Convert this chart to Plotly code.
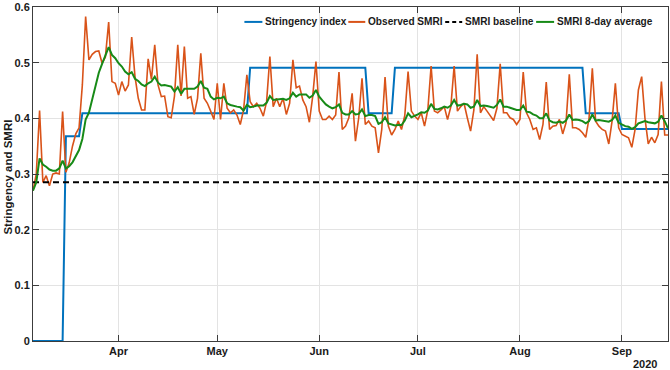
import pandas as pd
import plotly.graph_objects as go

start_date = "2020-03-06"

observed_smri = [
    0.270, 0.300, 0.414, 0.285, 0.297, 0.279, 0.300, 0.302, 0.300, 0.412,
    0.303, 0.320, 0.350, 0.372, 0.383, 0.460, 0.583, 0.505, 0.515, 0.520,
    0.521, 0.499, 0.510, 0.573, 0.466, 0.463, 0.442, 0.466, 0.449, 0.460,
    0.546, 0.475, 0.436, 0.415, 0.415, 0.507, 0.470, 0.532, 0.460, 0.439,
    0.440, 0.403, 0.401, 0.440, 0.532, 0.440, 0.529, 0.436, 0.439, 0.407,
    0.436, 0.517, 0.436, 0.427, 0.413, 0.398, 0.463, 0.398, 0.463, 0.418,
    0.410, 0.415, 0.406, 0.389, 0.415, 0.478, 0.430, 0.421, 0.427, 0.418,
    0.404, 0.430, 0.511, 0.421, 0.436, 0.421, 0.436, 0.407, 0.427, 0.505,
    0.455, 0.458, 0.433, 0.421, 0.393, 0.439, 0.502, 0.413, 0.398, 0.398,
    0.404, 0.398, 0.406, 0.483, 0.380, 0.386, 0.401, 0.445, 0.359, 0.401,
    0.472, 0.389, 0.395, 0.386, 0.383, 0.338, 0.380, 0.474, 0.386, 0.370,
    0.380, 0.395, 0.380, 0.405, 0.484, 0.413, 0.404, 0.398, 0.410, 0.386,
    0.415, 0.494, 0.413, 0.410, 0.415, 0.421, 0.398, 0.421, 0.494, 0.413,
    0.421, 0.427, 0.401, 0.377, 0.415, 0.515, 0.410, 0.421, 0.413, 0.404,
    0.396, 0.418, 0.498, 0.410, 0.410, 0.401, 0.398, 0.389, 0.398, 0.483,
    0.410, 0.398, 0.380, 0.383, 0.362, 0.389, 0.465, 0.380, 0.386, 0.387,
    0.398, 0.372, 0.392, 0.479, 0.383, 0.383, 0.380, 0.374, 0.366, 0.400,
    0.490, 0.395, 0.386, 0.380, 0.377, 0.354, 0.395, 0.463, 0.383, 0.371,
    0.368, 0.365, 0.348, 0.380, 0.451, 0.475, 0.400, 0.354, 0.366, 0.356,
    0.371, 0.466, 0.370, 0.370,
]

smri_8day_avg = [
    0.270, 0.285, 0.328, 0.317, 0.313, 0.308, 0.306, 0.306, 0.310, 0.324,
    0.310, 0.314, 0.321, 0.332, 0.343, 0.363, 0.398, 0.410, 0.436, 0.461,
    0.482, 0.498, 0.514, 0.528, 0.514, 0.508, 0.499, 0.493, 0.484, 0.479,
    0.483, 0.471, 0.467, 0.461, 0.458, 0.463, 0.466, 0.475, 0.464, 0.459,
    0.460, 0.458, 0.457, 0.448, 0.456, 0.444, 0.453, 0.453, 0.453, 0.453,
    0.457, 0.467, 0.455, 0.453, 0.439, 0.434, 0.437, 0.436, 0.439, 0.427,
    0.424, 0.422, 0.421, 0.420, 0.414, 0.424, 0.420, 0.421, 0.423, 0.423,
    0.423, 0.428, 0.440, 0.433, 0.434, 0.434, 0.435, 0.433, 0.436, 0.446,
    0.439, 0.443, 0.443, 0.443, 0.437, 0.441, 0.451, 0.439, 0.432, 0.425,
    0.421, 0.418, 0.420, 0.425, 0.410, 0.407, 0.407, 0.413, 0.407, 0.408,
    0.416, 0.404, 0.406, 0.406, 0.404, 0.390, 0.393, 0.402, 0.391, 0.389,
    0.387, 0.388, 0.388, 0.396, 0.409, 0.402, 0.404, 0.407, 0.411, 0.410,
    0.414, 0.426, 0.417, 0.416, 0.418, 0.421, 0.419, 0.423, 0.433, 0.423,
    0.424, 0.426, 0.425, 0.419, 0.421, 0.433, 0.422, 0.423, 0.422, 0.420,
    0.419, 0.424, 0.434, 0.421, 0.421, 0.419, 0.417, 0.415, 0.415, 0.423,
    0.412, 0.411, 0.407, 0.405, 0.400, 0.400, 0.409, 0.396, 0.393, 0.392,
    0.394, 0.392, 0.396, 0.407, 0.397, 0.398, 0.397, 0.395, 0.391, 0.395,
    0.407, 0.396, 0.397, 0.396, 0.396, 0.394, 0.397, 0.405, 0.392, 0.389,
    0.386, 0.385, 0.381, 0.384, 0.391, 0.393, 0.395, 0.393, 0.392, 0.391,
    0.394, 0.405, 0.395, 0.382,
]

# Stringency index: (number of days, level) segments
stringency_segments = [
    (10, 0.0),
    (5, 0.368),
    (51, 0.409),
    (36, 0.491),
    (8, 0.409),
    (58, 0.491),
    (11, 0.409),
    (15, 0.381),
]
smri_baseline = 0.285

series_names = ["Stringency index", "Observed SMRI", "SMRI baseline", "SMRI 8-day average"]
tick_dates = ["2020-04-01", "2020-05-01", "2020-06-01", "2020-07-01", "2020-08-01", "2020-09-01"]
tick_labels = ["Apr", "May", "Jun", "Jul", "Aug", "Sep"]
y_ticks = [0, 0.1, 0.2, 0.3, 0.4, 0.5, 0.6]
y_tick_labels = ["0", "0.1", "0.2", "0.3", "0.4", "0.5", "0.6"]
year_label = "2020"
y_title = "Stringency and SMRI"

dates = pd.date_range(start_date, periods=len(observed_smri), freq="D")
stringency = []
for n, level in stringency_segments:
    stringency += [level] * n

FONT = "Liberation Sans, Arial, Helvetica, sans-serif"
AX = "#3c3c3c"
COLORS = ["#0072BD", "#D95319", "black", "#178A17"]
WIDTHS = [2, 1.6, 2, 2]
DASHES = ["solid", "solid", "6px,4px", "solid"]

fig = go.Figure()
fig.add_trace(go.Scatter(x=dates, y=stringency, mode="lines", name=series_names[0],
                         line=dict(color=COLORS[0], width=WIDTHS[0])))
fig.add_trace(go.Scatter(x=dates, y=observed_smri, mode="lines", name=series_names[1],
                         line=dict(color=COLORS[1], width=WIDTHS[1])))
fig.add_trace(go.Scatter(x=[dates[0], dates[-1]], y=[smri_baseline, smri_baseline], mode="lines",
                         name=series_names[2],
                         line=dict(color=COLORS[2], width=WIDTHS[2], dash=DASHES[2])))
fig.add_trace(go.Scatter(x=dates, y=smri_8day_avg, mode="lines", name=series_names[3],
                         line=dict(color=COLORS[3], width=WIDTHS[3])))

# plot-area geometry in pixels (for a hand-built, MATLAB-like legend)
L, R, T, B = 33.4, 669.0, 5.0, 341.0
def px_x(p):
    return (p - L) / (R - L)
def px_y(p):
    return (B - p) / (B - T)

legend_samples = [(245, 263), (349, 366), (446, 463), (537, 555)]
legend_y = 20
shapes = []
annotations = []
for (x0, x1), name, c, w, d in zip(legend_samples, series_names, COLORS, WIDTHS, DASHES):
    shapes.append(dict(type="line", xref="paper", yref="paper",
                       x0=px_x(x0), x1=px_x(x1), y0=px_y(legend_y), y1=px_y(legend_y),
                       line=dict(color=c, width=2, dash=("4px,3px" if d != "solid" else "solid"))))
    annotations.append(dict(text=name, xref="paper", yref="paper", x=px_x(x1 + 1), y=px_y(legend_y),
                            xanchor="left", yanchor="middle", showarrow=False,
                            font=dict(size=10.1, weight="bold", family=FONT, color="#1a1a1a")))

annotations.append(dict(text=y_title, xref="paper", yref="paper", x=px_x(8), y=px_y(176),
                        xanchor="center", yanchor="middle", textangle=-90, showarrow=False,
                        font=dict(size=11.5, weight="bold", family=FONT)))
annotations.append(dict(text=year_label, xref="paper", yref="paper", x=px_x(646), y=px_y(364),
                        xanchor="center", yanchor="middle", showarrow=False,
                        font=dict(size=11, weight="bold", family=FONT)))

fig.update_layout(
    width=670, height=370,
    margin=dict(l=33, r=1, t=5, b=29),
    plot_bgcolor="white", paper_bgcolor="white",
    font=dict(family=FONT, size=11, color="#1a1a1a", weight="bold"),
    showlegend=False,
    xaxis=dict(
        type="date", range=[dates[0], dates[-1]],
        tickvals=tick_dates, ticktext=tick_labels,
        showgrid=True, gridcolor="#e3e3e3", gridwidth=1,
        ticks="inside", ticklen=6, tickcolor=AX,
        showline=True, linecolor=AX, linewidth=1, mirror="ticks",
        tickfont=dict(size=11, weight="bold", family=FONT),
        ticklabeloverflow="allow",
        zeroline=False,
    ),
    yaxis=dict(
        range=[0, 0.6], tickvals=y_ticks, ticktext=y_tick_labels,
        showgrid=True, gridcolor="#e3e3e3", gridwidth=1,
        ticks="inside", ticklen=6, tickcolor=AX,
        showline=True, linecolor=AX, linewidth=1, mirror="ticks",
        tickfont=dict(size=11, weight="bold", family=FONT),
        ticklabeloverflow="allow",
        zeroline=False,
    ),
    shapes=shapes,
    annotations=annotations,
)

fig.write_html("out.html", config={"displayModeBar": False},
               post_script="document.body.style.margin='0';document.body.style.padding='0';")
